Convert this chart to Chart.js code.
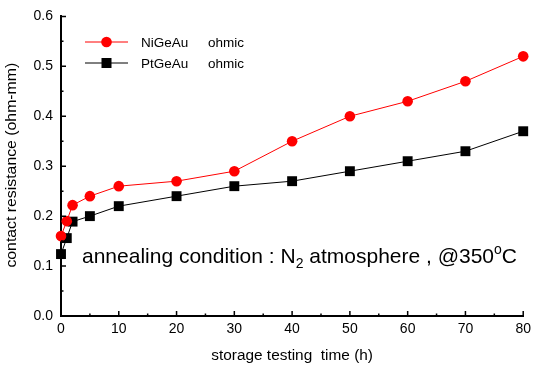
<!DOCTYPE html>
<html>
<head>
<meta charset="utf-8">
<script src="https://cdn.jsdelivr.net/npm/chart.js@4"></script>
<style>
  html, body { margin: 0; padding: 0; background: #fff; }
  #wrap { width: 536px; height: 370px; }
</style>
</head>
<body>
<div id="wrap"><canvas id="resChart" width="536" height="370"></canvas></div>
<script>
// storage time (h) on x, contact resistance on y
var time = [0, 1, 2, 5, 10, 20, 30, 40, 50, 60, 70, 80];
var niGeAu = [0.16, 0.19, 0.222, 0.24, 0.26, 0.27, 0.29, 0.35, 0.40, 0.43, 0.47, 0.52];
var ptGeAu = [0.124, 0.156, 0.189, 0.20, 0.22, 0.24, 0.26, 0.27, 0.29, 0.31, 0.33, 0.37];
var xTicks = [0, 10, 20, 30, 40, 50, 60, 70, 80];
var yTicks = [0, 0.1, 0.2, 0.3, 0.4, 0.5, 0.6];
var seriesNames = ["NiGeAu", "PtGeAu"];
var xTitle = 'storage testing  time (h)';
var yTitle = 'contact resistance (ohm-mm)';

var FONT = "'Liberation Sans', Arial, sans-serif";

function pairs(xs, ys) {
  return xs.map(function (x, i) { return { x: x, y: ys[i] }; });
}

// inward ticks (major + minor) drawn by hand, like the original plot
var tickPlugin = {
  id: 'inTicks',
  afterDraw: function (chart) {
    var ctx = chart.ctx, xs = chart.scales.x, ys = chart.scales.y;
    var bottom = ys.getPixelForValue(0), left = xs.getPixelForValue(0);
    ctx.save();
    ctx.strokeStyle = '#000';
    ctx.lineWidth = 1.5;
    ctx.beginPath();
    for (var v = 0; v <= 80; v += 5) {
      var len = (v % 10 === 0) ? 5 : 2.5;
      var px = xs.getPixelForValue(v);
      ctx.moveTo(px, bottom);
      ctx.lineTo(px, bottom - len);
    }
    for (var k = 0; k <= 12; k++) {
      var yv = k * 0.05;
      var l2 = (k % 2 === 0) ? 5 : 2.5;
      var py = ys.getPixelForValue(yv);
      ctx.moveTo(left, py);
      ctx.lineTo(left + l2, py);
    }
    ctx.stroke();
    ctx.restore();
  }
};

// axis titles, slightly stretched along their direction like the scan
var titlePlugin = {
  id: 'axisTitles',
  afterDraw: function (chart) {
    var ctx = chart.ctx, a = chart.chartArea;
    ctx.save();
    ctx.fillStyle = '#000';
    ctx.font = '14px ' + FONT;
    ctx.textAlign = 'center';
    ctx.textBaseline = 'middle';
    ctx.save();
    ctx.translate((a.left + a.right) / 2, 356);
    ctx.scale(1.1, 1);
    ctx.fillText(xTitle, 0, 0);
    ctx.restore();
    ctx.save();
    ctx.translate(12, (a.top + a.bottom) / 2 - 1);
    ctx.rotate(-Math.PI / 2);
    ctx.scale(1.13, 1);
    ctx.fillText(yTitle, 0, 0);
    ctx.restore();
    ctx.restore();
  }
};

// legend: short line with marker, name, then "ohmic"
var legendPlugin = {
  id: 'oldLegend',
  afterDraw: function (chart) {
    var ctx = chart.ctx;
    var x0 = chart.chartArea.left + 24, rowY = [42, 63];
    ctx.save();
    chart.data.datasets.forEach(function (ds, i) {
      var y = rowY[i];
      ctx.strokeStyle = ds.borderColor;
      ctx.lineWidth = 1;
      ctx.beginPath();
      ctx.moveTo(x0, y);
      ctx.lineTo(x0 + 43, y);
      ctx.stroke();
      ctx.fillStyle = ds.pointBackgroundColor;
      if (ds.pointStyle === 'rect') {
        ctx.fillRect(x0 + 21.5 - 5, y - 5, 10, 10);
      } else {
        ctx.beginPath();
        ctx.arc(x0 + 21.5, y, 5.3, 0, Math.PI * 2);
        ctx.fill();
      }
      ctx.fillStyle = '#000';
      ctx.font = '13.5px ' + FONT;
      ctx.textBaseline = 'middle';
      ctx.fillText(ds.label, 141, y + 1);
      ctx.fillText('ohmic', 208, y + 1);
    });
    ctx.restore();
  }
};

// annotation with subscript 2 and degree sign
var notePlugin = {
  id: 'note',
  afterDraw: function (chart) {
    var ctx = chart.ctx;
    var x = chart.chartArea.left + 21;
    var y = chart.scales.y.getPixelForValue(0.107);
    var big = '21px ' + FONT, small = '14px ' + FONT;
    var parts = [
      ['annealing condition : N', big, 0],
      ['2', small, 5],
      [' atmosphere , @350', big, 0],
      ['o', small, -9],
      ['C', big, 0]
    ];
    ctx.save();
    ctx.fillStyle = '#000';
    ctx.textBaseline = 'alphabetic';
    parts.forEach(function (p) {
      ctx.font = p[1];
      ctx.fillText(p[0], x, y + p[2]);
      x += ctx.measureText(p[0]).width;
    });
    ctx.restore();
  }
};

var ctx = document.getElementById('resChart');
var myChart = new Chart(ctx, {
  type: 'scatter',
  data: {
    datasets: [
      {
        label: seriesNames[0],
        data: pairs(time, niGeAu),
        showLine: true,
        borderColor: '#ff0000',
        borderWidth: 1,
        pointStyle: 'circle',
        pointRadius: 5.3,
        pointBorderWidth: 0,
        pointBackgroundColor: '#ff0000',
        clip: false
      },
      {
        label: seriesNames[1],
        data: pairs(time, ptGeAu),
        showLine: true,
        borderColor: '#000000',
        borderWidth: 1,
        pointStyle: 'rect',
        pointRadius: 7,
        pointBorderWidth: 0,
        pointBackgroundColor: '#000000',
        clip: false
      }
    ]
  },
  options: {
    responsive: false,
    animation: false,
    layout: { padding: { top: 13, right: 10, left: 0, bottom: 0 } },
    plugins: {
      legend: { display: false },
      tooltip: { enabled: false }
    },
    scales: {
      x: {
        type: 'linear',
        min: 0,
        max: 80,
        afterFit: function (s) { s.height = 54; },
        afterBuildTicks: function (s) { s.ticks = xTicks.map(function (v) { return { value: v }; }); },
        grid: { drawOnChartArea: false, drawTicks: false },
        border: { display: true, color: '#000', width: 2 },
        ticks: { color: '#000', padding: 5, font: { family: FONT, size: 14 } }
      },
      y: {
        type: 'linear',
        min: 0,
        max: 0.6,
        afterFit: function (s) { s.width = 61; },
        afterBuildTicks: function (s) { s.ticks = yTicks.map(function (v) { return { value: v }; }); },
        grid: { drawOnChartArea: false, drawTicks: false },
        border: { display: true, color: '#000', width: 2 },
        ticks: {
          color: '#000',
          padding: 8,
          font: { family: FONT, size: 14 },
          callback: function (v) { return v.toFixed(1); }
        }
      }
    }
  },
  plugins: [tickPlugin, titlePlugin, legendPlugin, notePlugin]
});
</script>
</body>
</html>
